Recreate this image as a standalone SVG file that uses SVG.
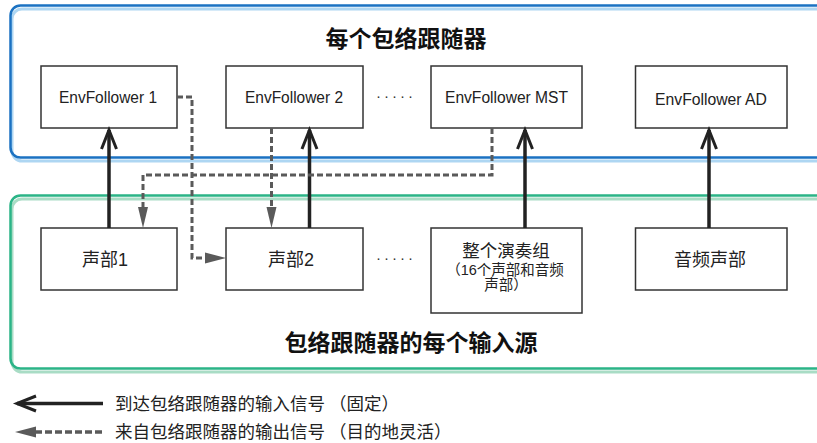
<svg xmlns="http://www.w3.org/2000/svg" width="817" height="443" viewBox="0 0 817 443">
<style>
.bg{fill:#ffffff}
.box{fill:#ffffff;stroke:#333333;stroke-width:1.5}
.lbl{font-family:"Liberation Sans",Arial,sans-serif;font-size:16px;fill:#222222;text-anchor:middle}
.cjk{font-family:"Liberation Sans","Noto Sans CJK SC",sans-serif;font-size:18px;fill:#222222;text-anchor:middle}
.cjk1{font-family:"Liberation Sans","Noto Sans CJK SC",sans-serif;font-size:17.5px;fill:#222222;text-anchor:middle}
.cjks{font-family:"Liberation Sans","Noto Sans CJK SC",sans-serif;font-size:14.5px;fill:#222222;text-anchor:middle}
.title{font-family:"Noto Sans CJK SC",sans-serif;font-size:23px;font-weight:bold;fill:#111111;text-anchor:middle}
.leg{font-family:"Noto Sans CJK SC",sans-serif;font-size:17.5px;fill:#222222}
.solid{fill:none;stroke:#222222;stroke-width:3.5}
.head{fill:none;stroke:#222222;stroke-width:3}
.dash{fill:none;stroke:#5a5a5a;stroke-width:3;stroke-dasharray:6 3}
.tri{fill:#5a5a5a}
.dots{font-family:"Liberation Sans",Arial,sans-serif;font-size:15px;fill:#333333;letter-spacing:3px}
</style>
<rect width="817" height="443" class="bg"/>
<g id="container-envfollowers">
<rect x="12" y="9" width="830" height="152" rx="10" fill="none" stroke="#aed6f2" stroke-width="3"/>
<rect x="10.5" y="5.5" width="830" height="152" rx="10" fill="none" stroke="#1b72c2" stroke-width="2.5"/>
<text class="title" x="406" y="47">每个包络跟随器</text>
</g>
<g id="container-sources">
<rect x="12" y="199" width="830" height="173" rx="10" fill="none" stroke="#a9dcc5" stroke-width="3"/>
<rect x="10.5" y="195.5" width="830" height="173" rx="10" fill="none" stroke="#2bb487" stroke-width="2.5"/>
<text class="title" x="411" y="351">包络跟随器的每个输入源</text>
</g>
<g id="ef1"><rect class="box" x="41" y="66" width="136" height="62"/><text class="lbl" x="108" y="103" textLength="98" lengthAdjust="spacingAndGlyphs">EnvFollower 1</text></g>
<g id="ef2"><rect class="box" x="226" y="66" width="137" height="62"/><text class="lbl" x="294" y="103" textLength="98" lengthAdjust="spacingAndGlyphs">EnvFollower 2</text></g>
<g id="efmst"><rect class="box" x="431" y="66" width="151" height="62"/><text class="lbl" x="506.5" y="103" textLength="123" lengthAdjust="spacingAndGlyphs">EnvFollower MST</text></g>
<g id="efad"><rect class="box" x="635.5" y="66" width="151.5" height="62"/><text class="lbl" x="711" y="105" textLength="112" lengthAdjust="spacingAndGlyphs">EnvFollower AD</text></g>
<g id="part1"><rect class="box" x="41" y="228" width="136" height="62"/><text class="cjk" x="105" y="266">声部1</text></g>
<g id="part2"><rect class="box" x="226" y="228" width="137" height="62"/><text class="cjk" x="291" y="266">声部2</text></g>
<g id="ensemble"><rect class="box" x="431" y="228" width="151" height="85"/>
<text class="cjk1" x="506" y="257">整个演奏组</text>
<text class="cjks" x="505" y="275">（16个声部和音频</text>
<text class="cjks" x="506" y="290">声部）</text></g>
<g id="audiopart"><rect class="box" x="635.5" y="228" width="151.5" height="62"/><text class="cjk" x="710" y="266">音频声部</text></g>
<g id="ellipses">
<text class="dots" x="376" y="101">·····</text>
<text class="dots" x="376" y="263">·····</text>
</g>
<g id="connectors">
<path class="solid" d="M109 228V130"/><path class="head" d="M101.5 149L109 130L116.5 149"/>
<path class="solid" d="M309.5 228V130"/><path class="head" d="M302 149L309.5 130L317 149"/>
<path class="solid" d="M525 228V130"/><path class="head" d="M517.5 149L525 130L532.5 149"/>
<path class="solid" d="M709 228V130"/><path class="head" d="M701.5 149L709 130L716.5 149"/>
<path class="dash" d="M177 97H192V258H206"/><polygon class="tri" points="205,252.5 226,258 205,263.5"/>
<path class="dash" d="M492 128V175H143V209"/><polygon class="tri" points="138,207 143,228 148,207"/>
<path class="dash" d="M271.5 128V209"/><polygon class="tri" points="266.5,207 271.5,228 276.5,207"/>
</g>
<g id="legend">
<path class="solid" d="M17 403.5H103"/><path class="head" d="M36 396L17 403.5L36 411"/>
<path class="dash" d="M35 432H103" style="stroke-width:3.5;stroke-dasharray:7 3"/><polygon class="tri" points="15,432 36,426.5 36,437.5"/>
<text class="leg" x="115" y="410">到达包络跟随器的输入信号 （固定）</text>
<text class="leg" x="115" y="438">来自包络跟随器的输出信号 （目的地灵活）</text>
</g>
</svg>
